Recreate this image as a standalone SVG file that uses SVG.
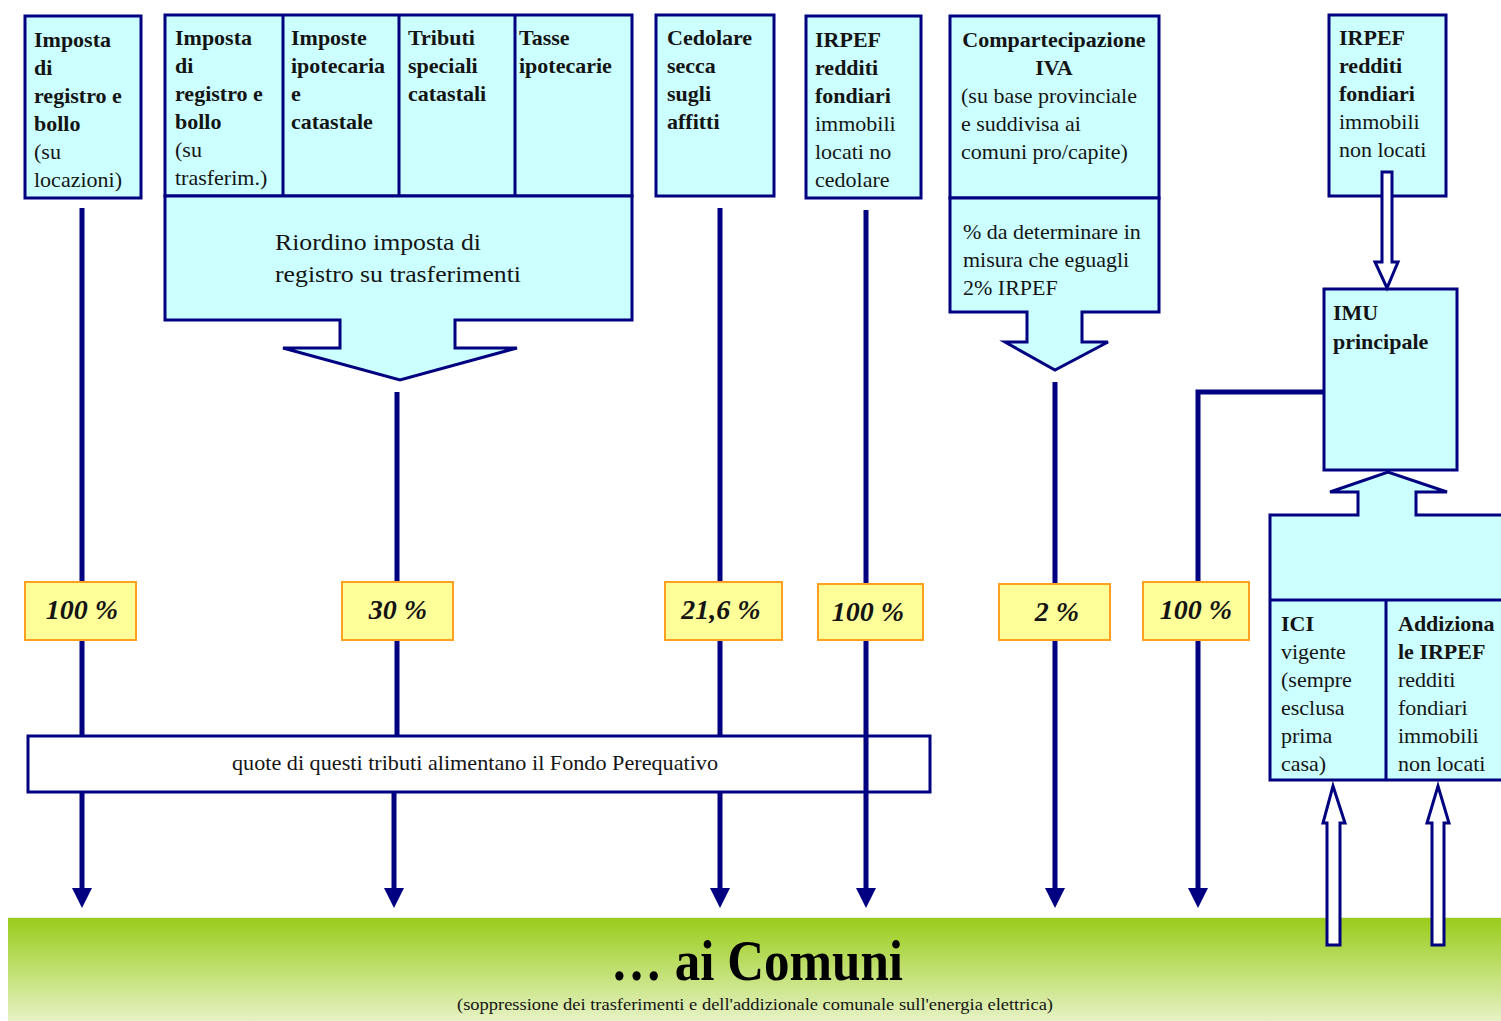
<svg xmlns="http://www.w3.org/2000/svg" width="1501" height="1021" viewBox="0 0 1501 1021">
<defs>
<linearGradient id="grn" x1="0" y1="0" x2="0" y2="1">
<stop offset="0" stop-color="#99CC1A"/>
<stop offset="1" stop-color="#E6F2C4"/>
</linearGradient>
<marker id="ah" viewBox="0 0 20 20" refX="2" refY="10" markerWidth="20" markerHeight="20" markerUnits="userSpaceOnUse" orient="auto">
<path d="M0,0 L20,10 L0,20 z" fill="#000080"/>
</marker>
<style>
.box{fill:#CCFFFF;stroke:#000080;stroke-width:3;stroke-linejoin:miter}
.div{stroke:#000080;stroke-width:3;fill:none}
.t{font-family:"Liberation Serif","Times New Roman",serif;font-size:22px;fill:#141414}
.b{font-weight:bold}
.ln{stroke:#000080;stroke-width:5;fill:none}
.hol{fill:#FFFFFF;stroke:#000080;stroke-width:3;stroke-linejoin:miter}
.pct{fill:#FFFF99;stroke:#FFA020;stroke-width:2}
.pt{font-family:"Liberation Serif","Times New Roman",serif;font-size:28px;font-weight:bold;font-style:italic;fill:#141414;text-anchor:middle}
</style>
</defs>
<rect width="1501" height="1021" fill="#FFFFFF"/>

<g id="band">
<rect x="8" y="918" width="1493" height="103" fill="url(#grn)"/>
<line x1="8" y1="917.5" x2="1501" y2="917.5" stroke="#E8F0D8" stroke-width="1"/>
<text x="757" y="980" font-family="'Liberation Serif','Times New Roman',serif" font-size="56" font-weight="bold" fill="#000" text-anchor="middle" textLength="292" lengthAdjust="spacingAndGlyphs">… ai Comuni</text>
<text x="755" y="1010" font-family="'Liberation Serif','Times New Roman',serif" font-size="17" fill="#141414" text-anchor="middle" textLength="596" lengthAdjust="spacingAndGlyphs">(soppressione dei trasferimenti e dell'addizionale comunale sull'energia elettrica)</text>
</g>

<g id="imposta-registro-locazioni">
<rect class="box" x="25" y="16" width="116" height="182"/>
<text class="t" x="34"><tspan class="b" x="34" y="47">Imposta</tspan><tspan class="b" x="34" y="75">di</tspan><tspan class="b" x="34" y="103">registro e</tspan><tspan class="b" x="34" y="131">bollo</tspan><tspan x="34" y="159">(su</tspan><tspan x="34" y="187">locazioni)</tspan></text>
</g>

<g id="tributi-trasferimenti">
<rect class="box" x="165" y="15" width="467" height="181"/>
<path class="div" d="M283,15 V196 M399,15 V196 M515,15 V196"/>
<path class="box" d="M165,196 H632 V320 H455 V348 H517 L400,380 L283,348 H340 V320 H165 Z"/>
<text class="t"><tspan class="b" x="175" y="45">Imposta</tspan><tspan class="b" x="175" y="73">di</tspan><tspan class="b" x="175" y="101">registro e</tspan><tspan class="b" x="175" y="129">bollo</tspan><tspan x="175" y="157">(su</tspan><tspan x="175" y="185">trasferim.)</tspan></text>
<text class="t b"><tspan x="291" y="45">Imposte</tspan><tspan x="291" y="73">ipotecaria</tspan><tspan x="291" y="101">e</tspan><tspan x="291" y="129">catastale</tspan></text>
<text class="t b"><tspan x="408" y="45">Tributi</tspan><tspan x="408" y="73">speciali</tspan><tspan x="408" y="101">catastali</tspan></text>
<text class="t b"><tspan x="519" y="45">Tasse</tspan><tspan x="519" y="73">ipotecarie</tspan></text>
<text class="t" style="font-size:24px" x="275" y="250" textLength="206" lengthAdjust="spacingAndGlyphs">Riordino imposta di</text>
<text class="t" style="font-size:24px" x="275" y="282" textLength="246" lengthAdjust="spacingAndGlyphs">registro su trasferimenti</text>
</g>

<g id="cedolare">
<rect class="box" x="656" y="15" width="118" height="181"/>
<text class="t b"><tspan x="667" y="45">Cedolare</tspan><tspan x="667" y="73">secca</tspan><tspan x="667" y="101">sugli</tspan><tspan x="667" y="129">affitti</tspan></text>
</g>

<g id="irpef-locati">
<rect class="box" x="806" y="16" width="115" height="182"/>
<text class="t"><tspan class="b" x="815" y="47">IRPEF</tspan><tspan class="b" x="815" y="75">redditi</tspan><tspan class="b" x="815" y="103">fondiari</tspan><tspan x="815" y="131">immobili</tspan><tspan x="815" y="159">locati no</tspan><tspan x="815" y="187">cedolare</tspan></text>
</g>

<g id="compartecipazione-iva">
<rect class="box" x="950" y="16" width="209" height="182"/>
<path class="box" d="M950,198 H1159 V312 H1082 V342 H1108 L1055,370 L1005,342 H1027 V312 H950 Z"/>
<text class="t b" text-anchor="middle"><tspan x="1054" y="47">Compartecipazione</tspan><tspan x="1054" y="75">IVA</tspan></text>
<text class="t"><tspan x="961" y="103">(su base provinciale</tspan><tspan x="961" y="131">e suddivisa ai</tspan><tspan x="961" y="159">comuni pro/capite)</tspan></text>
<text class="t"><tspan x="963" y="239">% da determinare in</tspan><tspan x="963" y="267">misura che eguagli</tspan><tspan x="963" y="295">2% IRPEF</tspan></text>
</g>

<g id="irpef-non-locati">
<rect class="box" x="1329" y="15" width="117" height="181"/>
<text class="t"><tspan class="b" x="1339" y="45">IRPEF</tspan><tspan class="b" x="1339" y="73">redditi</tspan><tspan class="b" x="1339" y="101">fondiari</tspan><tspan x="1339" y="129">immobili</tspan><tspan x="1339" y="157">non locati</tspan></text>
</g>

<g id="imu">
<rect class="box" x="1324" y="289" width="133" height="181"/>
<text class="t b"><tspan x="1333" y="320">IMU</tspan><tspan x="1333" y="349">principale</tspan></text>
</g>

<g id="ici-addizionale">
<path class="box" d="M1270,515 H1358 V492 H1330 L1388,472 L1447,492 H1416 V515 H1505 V780 H1270 Z"/>
<path class="div" d="M1270,600 H1505 M1386,600 V780"/>
<text class="t"><tspan class="b" x="1281" y="631">ICI</tspan><tspan x="1281" y="659">vigente</tspan><tspan x="1281" y="687">(sempre</tspan><tspan x="1281" y="715">esclusa</tspan><tspan x="1281" y="743">prima</tspan><tspan x="1281" y="771">casa)</tspan></text>
<text class="t"><tspan class="b" x="1398" y="631">Addiziona</tspan><tspan class="b" x="1398" y="659">le IRPEF</tspan><tspan x="1398" y="687">redditi</tspan><tspan x="1398" y="715">fondiari</tspan><tspan x="1398" y="743">immobili</tspan><tspan x="1398" y="771">non locati</tspan></text>
</g>

<g id="fondo-perequativo">
<rect x="28" y="736" width="902" height="56" fill="#FFFFFF" stroke="#000080" stroke-width="3"/>
<text x="232" y="770" font-family="'Liberation Serif','Times New Roman',serif" font-size="21" fill="#141414" textLength="486" lengthAdjust="spacingAndGlyphs">quote di questi tributi alimentano il Fondo Perequativo</text>
</g>

<g id="connectors">
<path class="ln" d="M82,208 V736"/>
<path class="ln" d="M82,792 V890" marker-end="url(#ah)"/>
<path class="ln" d="M397,392 V736"/>
<path class="ln" d="M394,792 V890" marker-end="url(#ah)"/>
<path class="ln" d="M720,208 V736"/>
<path class="ln" d="M720,792 V890" marker-end="url(#ah)"/>
<path class="ln" d="M866,210 V890" marker-end="url(#ah)"/>
<path class="ln" d="M1055,382 V890" marker-end="url(#ah)"/>
<path class="ln" d="M1324,392 H1198 V890" marker-end="url(#ah)"/>
<path class="hol" d="M1382,172 H1392 V262 H1398 L1387,288 L1375,262 H1382 Z"/>
<path class="hol" d="M1327,945 V823 H1323 L1333,786 L1345,823 H1340 V945 Z"/>
<path class="hol" d="M1432,945 V823 H1427 L1438,786 L1449,823 H1444 V945 Z"/>
</g>

<g id="pct-1"><rect class="pct" x="25" y="582" width="111" height="58"/><text class="pt" x="82" y="619">100 %</text></g>
<g id="pct-2"><rect class="pct" x="342" y="582" width="111" height="58"/><text class="pt" x="398" y="619">30 %</text></g>
<g id="pct-3"><rect class="pct" x="665" y="582" width="117" height="58"/><text class="pt" x="721" y="619">21,6 %</text></g>
<g id="pct-4"><rect class="pct" x="818" y="584" width="105" height="56"/><text class="pt" x="868" y="621">100 %</text></g>
<g id="pct-5"><rect class="pct" x="999" y="584" width="111" height="56"/><text class="pt" x="1057" y="621">2 %</text></g>
<g id="pct-6"><rect class="pct" x="1143" y="582" width="106" height="58"/><text class="pt" x="1196" y="619">100 %</text></g>
</svg>
